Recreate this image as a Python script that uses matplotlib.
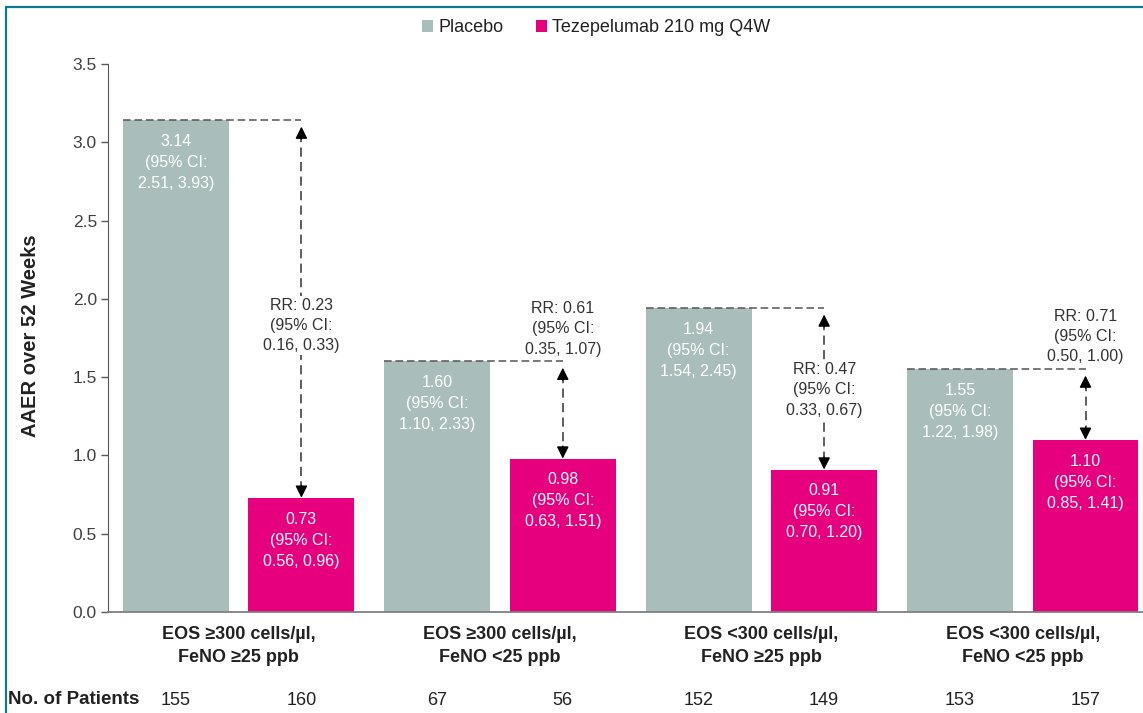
import numpy as np
import matplotlib.pyplot as plt
from matplotlib.patches import Patch, Rectangle
import matplotlib.transforms as mtransforms

plt.rcParams['font.family'] = ['Liberation Sans', 'DejaVu Sans']

# data
groups = ['EOS \u2265300 cells/\u00b5l,\nFeNO \u226525 ppb',
          'EOS \u2265300 cells/\u00b5l,\nFeNO <25 ppb',
          'EOS <300 cells/\u00b5l,\nFeNO \u226525 ppb',
          'EOS <300 cells/\u00b5l,\nFeNO <25 ppb']
placebo = [3.14, 1.60, 1.94, 1.55]
placebo_ci = [(2.51, 3.93), (1.10, 2.33), (1.54, 2.45), (1.22, 1.98)]
teze = [0.73, 0.98, 0.91, 1.10]
teze_ci = [(0.56, 0.96), (0.63, 1.51), (0.70, 1.20), (0.85, 1.41)]
rr = [0.23, 0.61, 0.47, 0.71]
rr_ci = [(0.16, 0.33), (0.35, 1.07), (0.33, 0.67), (0.50, 1.00)]
n_placebo = [155, 67, 152, 153]
n_teze = [160, 56, 149, 157]

# layout only
rr_text_y = [1.83, 1.81, 1.42, 1.76]

c_pla = '#A9BEBA'
c_tez = '#E6007E'
grey = '#404040'
dark = '#222222'

fig = plt.figure(figsize=(11.43, 7.13), dpi=100)
ax = fig.add_axes([108 / 1143, 1 - 612 / 713, 1 - 108 / 1143, 548 / 713])

x = np.arange(len(groups))
off = 0.24
w = 0.405
xp = x - off
xt = x + off

ax.bar(xp, placebo, w, color=c_pla, zorder=2)
ax.bar(xt, teze, w, color=c_tez, zorder=2)


def lab(v, ci):
    return '%.2f\n(95%% CI:\n%.2f, %.2f)' % (v, ci[0], ci[1])


for i in range(len(groups)):
    ax.annotate(lab(placebo[i], placebo_ci[i]), (xp[i], placebo[i]), xytext=(0, -10),
                textcoords='offset points', ha='center', va='top', color='white',
                fontsize=11.5, linespacing=1.5, zorder=4)
    ax.annotate(lab(teze[i], teze_ci[i]), (xt[i], teze[i]), xytext=(0, -10),
                textcoords='offset points', ha='center', va='top', color='white',
                fontsize=11.5, linespacing=1.5, zorder=4)

    # horizontal dashed reference line at placebo level
    ax.plot([xp[i] - w / 2, xt[i]], [placebo[i], placebo[i]], color='#555555',
            lw=1.1, linestyle=(0, (5, 2.5)), zorder=3)
    # vertical dashed line with arrow heads
    ax.plot([xt[i], xt[i]], [placebo[i] - 0.08, teze[i] + 0.05], color='#333333',
            lw=1.1, linestyle=(0, (6, 3.5)), zorder=3)
    ax.annotate('', xy=(xt[i], placebo[i] - 0.04), xytext=(0, -9), textcoords='offset points',
                arrowprops=dict(arrowstyle='-|>,head_length=0.6,head_width=0.3',
                                color='black', lw=1, shrinkA=0, shrinkB=0, mutation_scale=12),
                zorder=4)
    ax.annotate('', xy=(xt[i], teze[i]), xytext=(0, 9), textcoords='offset points',
                arrowprops=dict(arrowstyle='-|>,head_length=0.6,head_width=0.3',
                                color='black', lw=1, shrinkA=0, shrinkB=0, mutation_scale=12),
                zorder=4)
    ax.text(xt[i], rr_text_y[i], 'RR: %.2f\n(95%% CI:\n%.2f, %.2f)' % (rr[i], rr_ci[i][0], rr_ci[i][1]),
            ha='center', va='center', fontsize=11.5, linespacing=1.45, color='#333333', zorder=5,
            bbox=dict(facecolor='white', edgecolor='none', pad=1))

ax.set_ylim(0, 3.5)
ax.set_xlim(-0.5, 3.46)
ax.set_yticks(np.arange(0, 3.51, 0.5))
ax.set_yticklabels(['%.1f' % v for v in np.arange(0, 3.51, 0.5)])
ax.set_xticks(x)
ax.set_xticklabels(groups, fontsize=13, fontweight='bold', color=dark, linespacing=1.5)
ax.tick_params(axis='x', length=0, pad=10)
ax.tick_params(axis='y', length=5, width=1, color='#595959', labelsize=12.5,
               labelcolor=grey, pad=3)

for s in ['top', 'right']:
    ax.spines[s].set_visible(False)
ax.spines['left'].set_color('#595959')
ax.spines['bottom'].set_color('#7f7f7f')
ax.spines['bottom'].set_linewidth(1.3)

# patient numbers
trans = mtransforms.blended_transform_factory(ax.transData, ax.transAxes)
for i in range(len(groups)):
    ax.text(xp[i], -0.1606, str(n_placebo[i]), transform=trans, ha='center', va='center',
            fontsize=13, color=dark)
    ax.text(xt[i], -0.1606, str(n_teze[i]), transform=trans, ha='center', va='center',
            fontsize=13, color=dark)
fig.text(8 / 1143, 1 - 700 / 713, 'No. of Patients', ha='left', va='center',
         fontsize=13.5, fontweight='bold', color=dark)

fig.text(31 / 1143, 1 - 336 / 713, 'AAER over 52 Weeks', rotation=90, ha='center', va='center',
         fontsize=14.5, fontweight='bold', color=dark)

handles = [Patch(facecolor=c_pla, edgecolor='none', label='Placebo'),
           Patch(facecolor=c_tez, edgecolor='none', label='Tezepelumab 210 mg Q4W')]
fig.legend(handles=handles, loc='center', bbox_to_anchor=(596.5 / 1143, 1 - 28 / 713), ncol=2,
           frameon=False, fontsize=13, handlelength=0.6, handleheight=0.6,
           handletextpad=0.3, columnspacing=1.8, labelcolor=dark)

# teal frame around the slide
fig.patches.append(Rectangle((6 / 1143, -0.2), 2, 1.2 - 7 / 713, transform=fig.transFigure,
                             fill=False, edgecolor='#0E7A8C', lw=1.6))

fig.savefig('out.png', dpi=100)
